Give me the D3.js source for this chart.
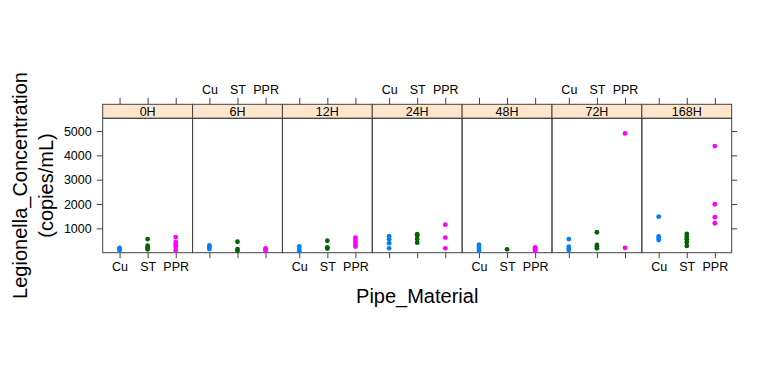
<!DOCTYPE html>
<html>
<head>
<meta charset="utf-8">
<script src="https://cdn.jsdelivr.net/npm/d3@7"></script>
<style>
  body { margin: 0; background: #fff; }
  text { font-family: "Liberation Sans", Arial, sans-serif; }
</style>
</head>
<body>
<div id="chart"></div>
<script>
var times = ["0H", "6H", "12H", "24H", "48H", "72H", "168H"];
var materials = ["Cu", "ST", "PPR"];
var yTicks = [1000, 2000, 3000, 4000, 5000];

// one inner array per time point
var cuValues = [
  [100, 150, 200],
  [150, 220, 300],
  [60, 150, 260],
  [180, 390, 550, 680],
  [80, 160, 250, 330],
  [110, 170, 250, 560],
  [520, 600, 670, 1480]
];
var stValues = [
  [140, 200, 290, 560],
  [80, 150, 450],
  [170, 220, 490],
  [410, 560, 700, 760],
  [140],
  [180, 250, 320, 840],
  [280, 430, 550, 660, 770]
];
var pprValues = [
  [100, 240, 330, 440, 640],
  [80, 130, 180],
  [250, 330, 430, 520, 620],
  [180, 620, 1150],
  [80, 130, 180, 220],
  [200, 4900],
  [1210, 1460, 1990, 4380]
];
var colors = ["#0080ff", "#006400", "#ff00ff"];

var width = 760, height = 378;
var left = 102.7, right = 731.7;
var stripTop = 104.3, panelTop = 118.3, panelBottom = 252.7;

var svg = d3.select("#chart")
  .append("svg")
    .attr("width", width)
    .attr("height", height);

var panel = d3.scaleBand()
  .domain(times)
  .range([left, right]);

var x = d3.scaleLinear()
  .domain([0.4, 3.6])
  .range([0, panel.bandwidth()]);

var y = d3.scaleLinear()
  .domain([0, 5522])
  .range([panelBottom, panelTop]);

var points = [];
var groups = [cuValues, stValues, pprValues];
groups.forEach(function(g, m) {
  g.forEach(function(vals, t) {
    vals.forEach(function(v) {
      points.push({time: times[t], mat: m, value: v});
    });
  });
});

// strips
svg.selectAll(".strip")
  .data(times)
  .enter().append("rect")
    .attr("x", function(d) { return panel(d) })
    .attr("y", stripTop)
    .attr("width", panel.bandwidth())
    .attr("height", panelTop - stripTop)
    .attr("fill", "#ffe5cc")
    .attr("stroke", "#444")
    .attr("stroke-width", 1);

svg.selectAll(".stripText")
  .data(times)
  .enter().append("text")
    .attr("x", function(d) { return panel(d) + panel.bandwidth() / 2 })
    .attr("y", panelTop - 2.6)
    .attr("text-anchor", "middle")
    .attr("font-size", 12.5)
    .text(function(d) { return d });

// panels
svg.selectAll(".panel")
  .data(times)
  .enter().append("rect")
    .attr("x", function(d) { return panel(d) })
    .attr("y", panelTop)
    .attr("width", panel.bandwidth())
    .attr("height", panelBottom - panelTop)
    .attr("fill", "none")
    .attr("stroke", "#444")
    .attr("stroke-width", 1);

// x ticks on every panel, labels alternate bottom/top
times.forEach(function(t, i) {
  var g = svg.append("g")
    .attr("transform", "translate(" + panel(t) + "," + panelBottom + ")");
  var axB = d3.axisBottom(x).tickValues([1, 2, 3]).tickSize(5.5).tickPadding(4)
    .tickFormat(function(d) { return i % 2 == 0 ? materials[d - 1] : "" });
  g.call(axB);
  var gt = svg.append("g")
    .attr("transform", "translate(" + panel(t) + "," + stripTop + ")");
  var axT = d3.axisTop(x).tickValues([1, 2, 3]).tickSize(6.5).tickPadding(4)
    .tickFormat(function(d) { return i % 2 == 1 ? materials[d - 1] : "" });
  gt.call(axT);
});

// y axis left with labels, right ticks only
svg.append("g")
  .attr("transform", "translate(" + left + ",0)")
  .call(d3.axisLeft(y).tickValues(yTicks).tickSize(6).tickPadding(5).tickFormat(d3.format("d")));
svg.append("g")
  .attr("transform", "translate(" + right + ",0)")
  .call(d3.axisRight(y).tickValues(yTicks).tickSize(5.5).tickFormat(""));

svg.selectAll(".domain").remove();
svg.selectAll(".tick line").attr("stroke", "#444");
svg.selectAll(".tick text").attr("font-size", 12.5).attr("fill", "#000")
  .style("font-family", "'Liberation Sans', Arial, sans-serif");

// points
svg.selectAll(".pt")
  .data(points)
  .enter().append("circle")
    .attr("cx", function(d) { return panel(d.time) + x(d.mat + 1) })
    .attr("cy", function(d) { return y(d.value) })
    .attr("r", 2.4)
    .attr("fill", function(d) { return colors[d.mat] });

// axis titles
svg.append("text")
  .attr("x", (left + right) / 2)
  .attr("y", 303)
  .attr("text-anchor", "middle")
  .attr("font-size", 20)
  .text("Pipe_Material");

var yt = svg.append("text")
  .attr("transform", "translate(27," + (panelTop + panelBottom) / 2 + ") rotate(-90)")
  .attr("text-anchor", "middle")
  .attr("font-size", 20);
yt.append("tspan").attr("x", 0).attr("dy", 0).text("Legionella_Concentration");
yt.append("tspan").attr("x", 0).attr("dy", 26).text("(copies/mL)");
</script>
</body>
</html>
